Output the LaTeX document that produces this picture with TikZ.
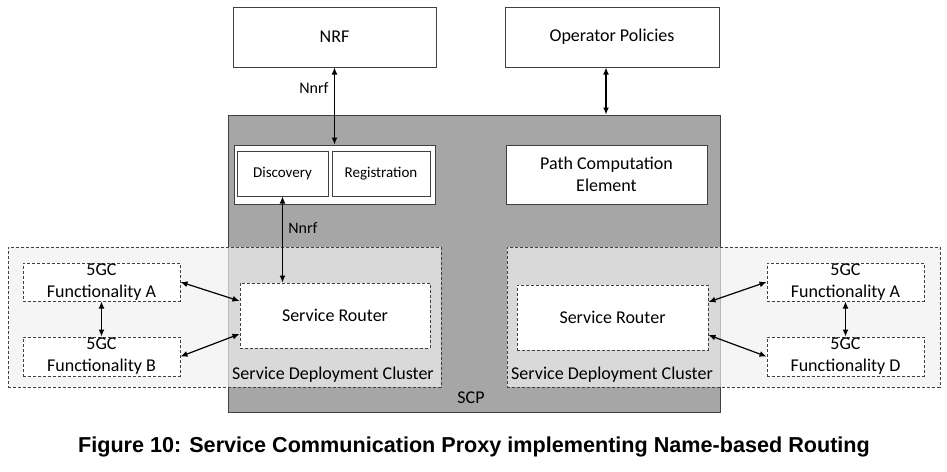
\documentclass[tikz,border=0pt]{standalone}
\usepackage{fontspec}
\setmainfont{Carlito}
\newfontfamily\capfont{Liberation Sans}
\usetikzlibrary{arrows.meta, positioning}
\definecolor{scpgray}{RGB}{166, 166, 166}
\definecolor{edgegray}{RGB}{64, 64, 64}
\definecolor{clusterfill}{RGB}{240, 240, 240}

\tikzset{
  plainbox/.style={draw=edgegray, fill=white, line width=0.5pt, inner sep=0pt, align=center, font=\fontsize{9}{11}\selectfont},
  dashbox/.style={plainbox, dash pattern=on 1.5pt off 1pt},
  smalltext/.style={inner sep=0pt, font=\fontsize{8}{10}\selectfont},
  link/.style={{Latex[length=3.5pt,width=3pt]}-{Latex[length=3.5pt,width=3pt]}, line width=0.6pt},
}

\begin{document}
\begin{tikzpicture}[x=0.5pt, y=-0.5pt]
  \useasboundingbox (0, 0) rectangle (947, 471);

  % Outside elements
  \node[plainbox, minimum width=101.5pt, minimum height=30pt] (nrf) at (334.5, 37) {NRF};
  \node[plainbox, minimum width=107pt, minimum height=30pt] (oppol) at (612, 37) {Operator Policies};

  % SCP
  \node[plainbox, fill=scpgray, minimum width=246pt, minimum height=148.5pt] (scp) at (474, 263.5) {};
  \node[smalltext, font=\fontsize{9}{11}\selectfont] (scplabel) at (471, 398) {SCP};

  % Service deployment clusters
  \node[dashbox, fill=clusterfill, fill opacity=0.69, minimum width=216.5pt, minimum height=70pt] (sdcl) at (224.5, 317) {};
  \node[dashbox, fill=clusterfill, fill opacity=0.69, minimum width=216.5pt, minimum height=70pt] (sdcr) at (723.5, 317) {};
  \node[smalltext, font=\fontsize{9}{11}\selectfont] (sdcllabel) at (333, 375) {Service Deployment Cluster};
  \node[smalltext, font=\fontsize{9}{11}\selectfont] (sdcrlabel) at (612, 375) {Service Deployment Cluster};

  % Inside SCP
  \node[plainbox, minimum width=100.5pt, minimum height=29.5pt] (nrfif) at (334.5, 174.5) {};
  \node[plainbox, font=\fontsize{7.5}{9}\selectfont, minimum width=45.5pt, minimum height=22.5pt] (disc) at (282.5, 173.5) {Discovery};
  \node[plainbox, font=\fontsize{7.5}{9}\selectfont, minimum width=49pt, minimum height=22.5pt] (reg) at (381, 173.5) {Registration};
  \node[plainbox, minimum width=100.5pt, minimum height=29.5pt] (pce) at (606.5, 174.5) {Path Computation\\Element};

  % Routers and 5GC functions
  \node[dashbox, minimum width=95pt, minimum height=32.5pt] (srl) at (335, 315.5) {Service Router};
  \node[dashbox, minimum width=95.5pt, minimum height=32.5pt] (srr) at (612.5, 317.5) {Service Router};
  \node[dashbox, minimum width=78.5pt, minimum height=19pt] (fal) at (101.5, 282) {5GC\\Functionality A};
  \node[dashbox, minimum width=78.5pt, minimum height=19.5pt] (fbl) at (101.5, 356.5) {5GC\\Functionality B};
  \node[dashbox, minimum width=78.5pt, minimum height=19pt] (far) at (845.5, 282) {5GC\\Functionality A};
  \node[dashbox, minimum width=78.5pt, minimum height=19.5pt] (fdr) at (845.5, 356.5) {5GC\\Functionality D};

  % Connections
  \draw[link] (nrf.south) -- (nrfif.north);
  \node[smalltext] (nnrfup) at (314, 88) {Nnrf};
  \draw[link] ([xshift=-3pt]oppol.south) -- ([xshift=-3pt]oppol.south |- scp.north);
  \draw[link] (disc.south) -- (disc.south |- srl.north);
  \node[smalltext] (nnrflow) at (303, 228) {Nnrf};

  \draw[link] (fal.east) -- ([yshift=7.25pt]srl.west);
  \draw[link] (fbl.east) -- ([yshift=-9.25pt]srl.west);
  \draw[link] (fal.south) -- (fbl.north);
  \draw[link] (far.west) -- ([yshift=7.75pt]srr.east);
  \draw[link] (fdr.west) -- ([yshift=-8.75pt]srr.east);
  \draw[link] (far.south) -- (fdr.north);

  % Caption
  \node[inner sep=0pt, font=\capfont\bfseries\fontsize{10.8}{13}\selectfont] (caption) at (474, 447) {Figure 10: Service Communication Proxy implementing Name-based Routing};
\end{tikzpicture}
\end{document}
